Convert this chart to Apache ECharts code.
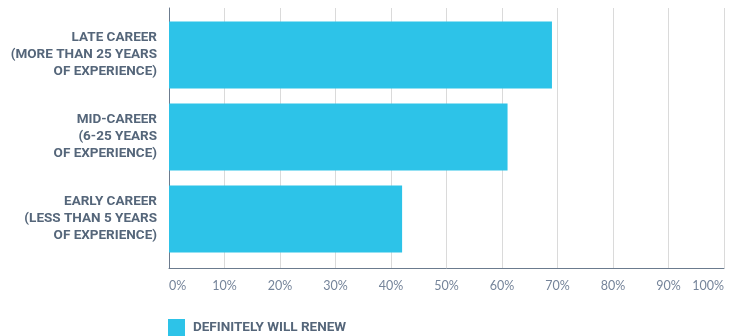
<!DOCTYPE html>
<html>
<head>
<meta charset="utf-8">
<script src="https://cdn.jsdelivr.net/npm/echarts@6/dist/echarts.min.js"></script>
<style>html,body{margin:0;padding:0;background:#fff}#c{width:733px;height:336px}</style>
</head>
<body>
<div id="c"></div>
<script>
var categories = [
  'EARLY CAREER\n(LESS THAN 5 YEARS\nOF EXPERIENCE)',
  'MID-CAREER\n(6-25 YEARS\nOF EXPERIENCE)',
  'LATE CAREER\n(MORE THAN 25 YEARS\nOF EXPERIENCE)'
];
var seriesName = 'DEFINITELY WILL RENEW';
var values = [42, 61, 69];
var tickValues = [0, 10, 20, 30, 40, 50, 60, 70, 80, 90, 100];

var labelColor = '#55667a';
var boldFont = 'Roboto';
var chart = echarts.init(document.getElementById('c'));
chart.setOption({
  animation: false,
  grid: [
    {left: 169, right: 9, top: 8, bottom: 68, outerBoundsMode: 'none', containLabel: false},
    {left: 169, right: 9, top: 14, bottom: 76, outerBoundsMode: 'none', containLabel: false}
  ],
  legend: {
    left: 168, top: 319, padding: 0,
    itemWidth: 17, itemHeight: 17, itemGap: 10,
    icon: 'rect',
    textStyle: {color: labelColor, fontFamily: boldFont, fontWeight: 'bold', fontSize: 13.5, padding: [0, 0, 0, 3]},
    data: [seriesName]
  },
  xAxis: [
    {
      gridIndex: 0, type: 'value', min: 0, max: 100, interval: 10,
      axisLine: {show: true, lineStyle: {color: '#6b7b8e', width: 1}},
      axisTick: {show: false},
      splitLine: {show: true, lineStyle: {color: '#dadada', width: 1}},
      axisLabel: {
        color: '#75849a', fontFamily: 'Lato', fontSize: 12.5, margin: 11,
        alignMinLabel: 'left', alignMaxLabel: 'right',
        formatter: function (v) { return tickValues.indexOf(v) >= 0 ? v + '%' : ''; }
      }
    },
    {gridIndex: 1, type: 'value', min: 0, max: 100, show: false}
  ],
  yAxis: [
    {
      gridIndex: 0, type: 'category', data: categories,
      axisLine: {show: true, lineStyle: {color: '#6b7b8e', width: 1}},
      axisTick: {show: false}, axisLabel: {show: false}
    },
    {
      gridIndex: 1, type: 'category', data: categories,
      axisLine: {show: false}, axisTick: {show: false},
      axisLabel: {
        color: labelColor, fontFamily: boldFont, fontWeight: 'bold', fontSize: 13.5,
        lineHeight: 17, align: 'right', margin: 12
      }
    }
  ],
  series: [{
    name: seriesName, type: 'bar', xAxisIndex: 1, yAxisIndex: 1,
    data: values, barWidth: 67,
    itemStyle: {color: '#2dc3e8'}
  }]
});
</script>
</body>
</html>
